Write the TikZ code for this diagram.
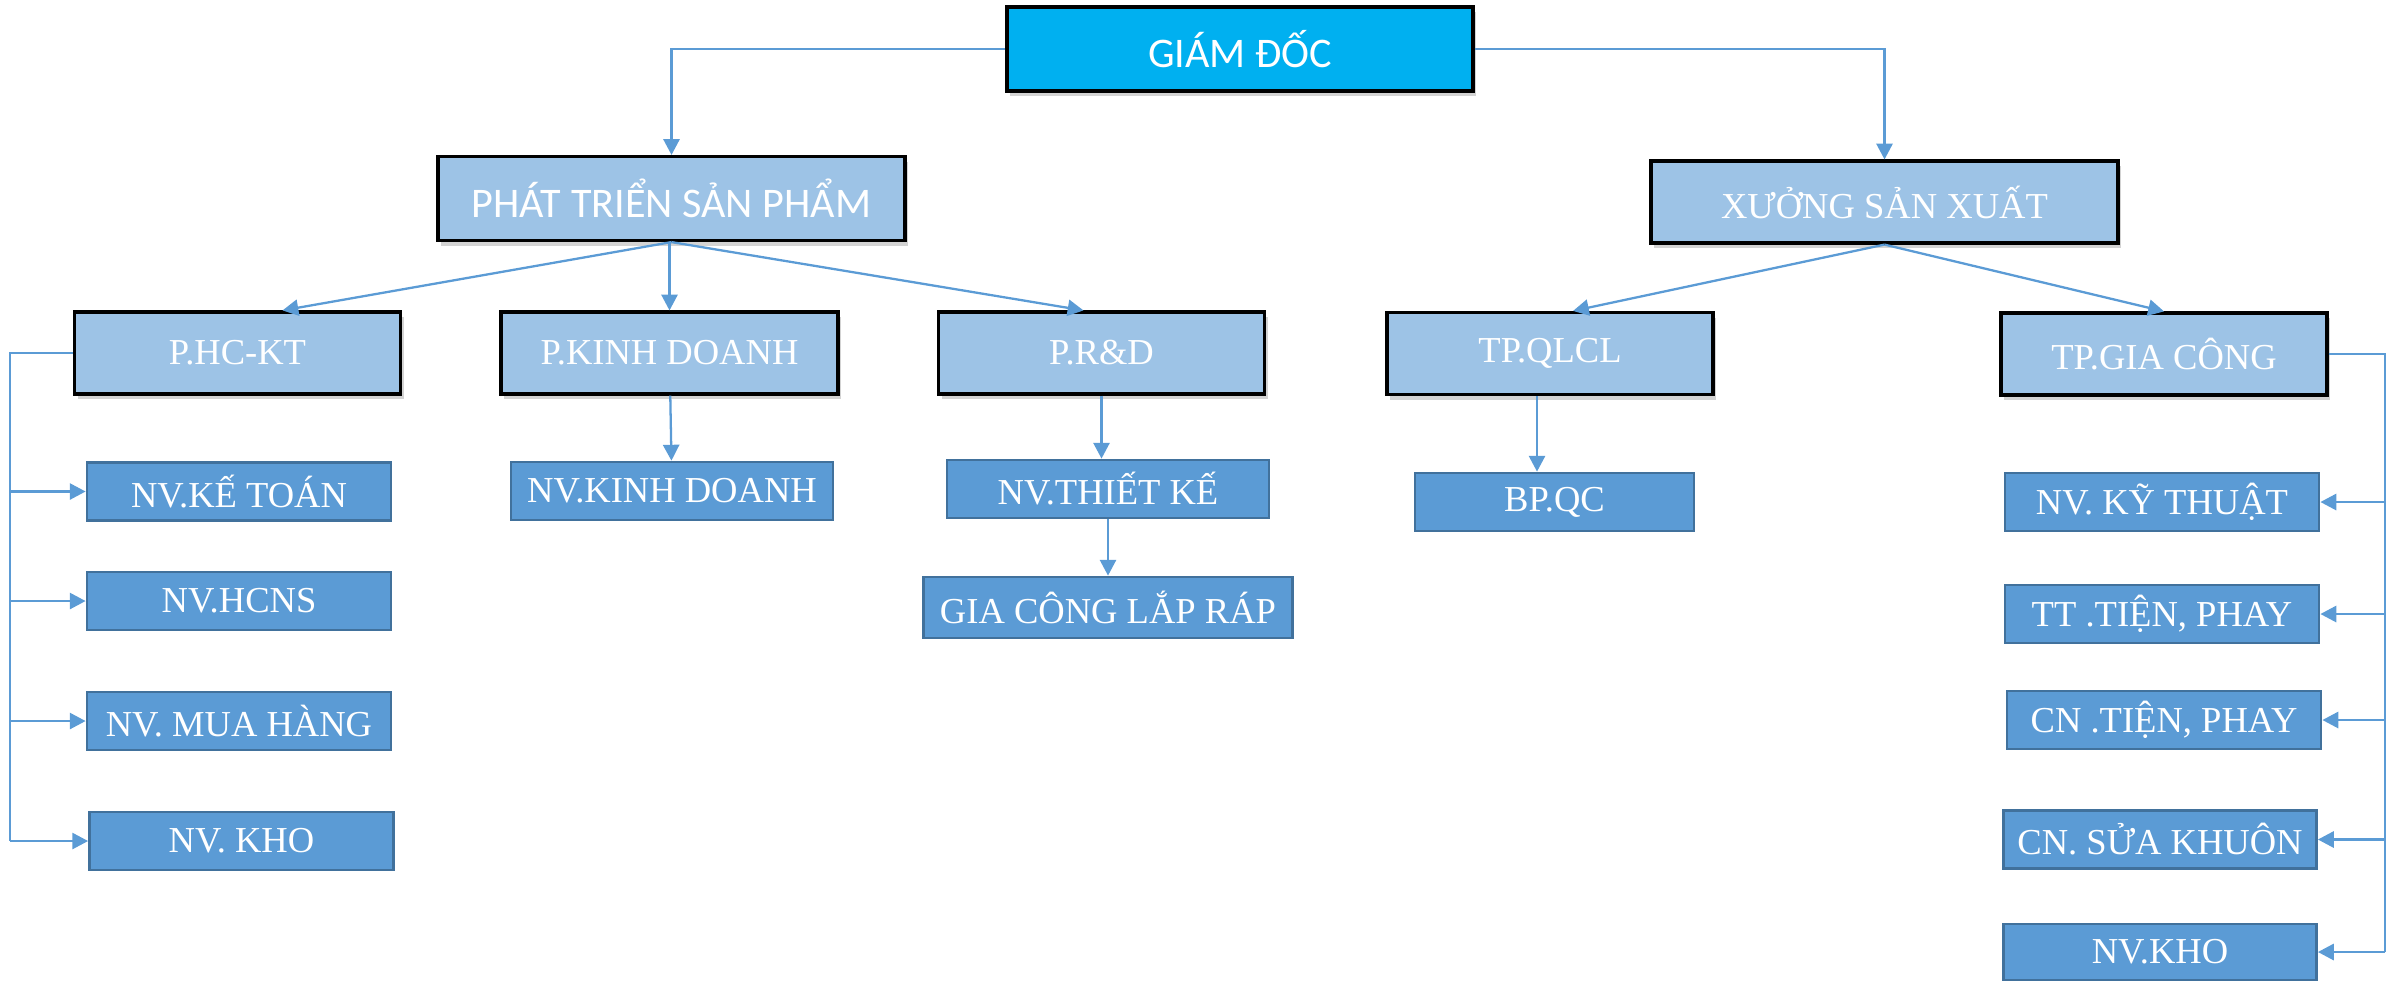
\documentclass[tikz,border=0pt]{standalone}
\usepackage{fontspec}
\setmainfont{Liberation Serif}
\newfontfamily\calibri{Carlito}
\usepackage{tikz}
\usetikzlibrary{shapes, arrows.meta, shadows}
\definecolor{topblue}{HTML}{00B0F0}
\definecolor{midblue}{HTML}{9DC3E6}
\definecolor{lowblue}{HTML}{5B9BD5}
\definecolor{lowedge}{HTML}{41719C}
\tikzstyle{arrow} = [line width=0.65pt, draw=lowblue, ->, >={Triangle[length=4.5pt,width=4.6pt]}]
\tikzstyle{link} = [line width=0.65pt, draw=lowblue]
\tikzstyle{head} = [rectangle, minimum width = 4.66cm, minimum height = 0.84cm, inner sep=0pt, text centered, draw=black, line width=0.9pt, fill=topblue, text=white, font=\calibri\fontsize{12}{14}\selectfont, drop shadow={opacity=0.35, shadow xshift=0.03cm, shadow yshift=-0.05cm}]
\tikzstyle{dept} = [rectangle, minimum width = 3.26cm, minimum height = 0.82cm, inner sep=0pt, text centered, draw=black, line width=0.9pt, fill=midblue, text=white, font=\fontsize{10.4}{12}\selectfont, drop shadow={opacity=0.35, shadow xshift=0.03cm, shadow yshift=-0.05cm}]
\tikzstyle{staff} = [rectangle, minimum width = 3.04cm, minimum height = 0.58cm, inner sep=0pt, text centered, draw=lowedge, line width=0.8pt, fill=lowblue, text=white, font=\fontsize{10.4}{12}\selectfont]

\begin{document}
\begin{tikzpicture}[node distance = 1cm]
				\useasboundingbox (0,0) rectangle (23.97,-9.83);
				%\node(label)[type]{name}
				\node(gd)[head] at (12.40,-0.49){GIÁM ĐỐC};
				\node(pt)[head, minimum width = 4.67cm, fill=midblue, below of = gd, xshift = -5.685cm, yshift = -0.495cm]{PHÁT TRIỂN SẢN PHẨM};
				\node(xsx)[dept, minimum width = 4.67cm, below of = gd, xshift = 6.445cm, yshift = -0.53cm]{XƯỞNG SẢN XUẤT};
				
				\node(phckt)[dept, below of = pt, xshift = -4.34cm, yshift = -0.545cm]{P.HC-KT};
				\node(pkd)[dept, minimum width = 3.37cm, below of = pt, xshift = -0.02cm, yshift = -0.545cm]{P.KINH DOANH};
				\node(prd)[dept, below of = pt, xshift = 4.30cm, yshift = -0.545cm]{P.R\&D};
				\node(tpqlcl)[dept, below of = xsx, xshift = -3.345cm, yshift = -0.515cm]{TP.QLCL};
				\node(tpgc)[dept, below of = xsx, xshift = 2.795cm, yshift = -0.52cm]{TP.GIA CÔNG};
				
				\node(kt)[staff, below of = phckt, xshift = 0.015cm, yshift = -0.385cm]{NV.KẾ TOÁN};
				\node(hcns)[staff, below of = kt, yshift = -0.095cm]{NV.HCNS};
				\node(mh)[staff, below of = hcns, yshift = -0.2cm]{NV. MUA HÀNG};
				\node(kho1)[staff, below of = mh, xshift = 0.025cm, yshift = -0.2cm]{NV. KHO};
				
				\node(kd)[staff, minimum width = 3.22cm, below of = pkd, xshift = 0.025cm, yshift = -0.38cm]{NV.KINH DOANH};
				
				\node(tk)[staff, minimum width = 3.22cm, below of = prd, xshift = 0.065cm, yshift = -0.36cm]{NV.THIẾT KẾ};
				\node(lr)[staff, minimum width = 3.69cm, minimum height = 0.61cm, below of = tk, yshift = -0.185cm]{GIA CÔNG LẮP RÁP};
				
				\node(qc)[staff, minimum width = 2.79cm, below of = tpqlcl, xshift = 0.045cm, yshift = -0.485cm]{BP.QC};
				
				\node(kyt)[staff, minimum width = 3.14cm, below of = tpgc, xshift = -0.02cm, yshift = -0.48cm]{NV. KỸ THUẬT};
				\node(tttp)[staff, minimum width = 3.14cm, below of = kyt, yshift = -0.12cm]{TT .TIỆN, PHAY};
				\node(cntp)[staff, minimum width = 3.14cm, below of = tttp, xshift = 0.02cm, yshift = -0.06cm]{CN .TIỆN, PHAY};
				\node(sk)[staff, minimum width = 3.13cm, below of = cntp, xshift = -0.04cm, yshift = -0.195cm]{CN. SỬA KHUÔN};
				\node(kho2)[staff, minimum width = 3.13cm, minimum height = 0.56cm, below of = sk, yshift = -0.125cm]{NV.KHO};
				
				\coordinate(busL) at (0.10,0);
				\coordinate(busR) at (23.85,0);
				
				%arrows
					\draw [arrow] (gd) -| (pt);
					\draw [arrow] (gd) -| (xsx);
					\draw [arrow] (pt.south) -- ([xshift = 0.45cm]phckt.north);
					\draw [arrow] (pt.south -| pkd.north) -- (pkd.north);
					\draw [arrow] (pt.south) -- ([xshift = -0.18cm]prd.north);
					\draw [arrow] (xsx.south) -- ([xshift = 0.23cm]tpqlcl.north);
					\draw [arrow] (xsx.south) -- (tpgc.north);
					\draw [arrow] (pkd) -- (kd);
					\draw [arrow] (prd.south) -- (prd.south |- tk.north);
					\draw [arrow] (tk) -- (lr);
					\draw [arrow] ([xshift = -0.13cm]tpqlcl.south) -- ([xshift = -0.13cm]tpqlcl.south |- qc.north);
					
					\draw [link] (phckt) -| (busL |- kho1);
					\draw [arrow] (busL |- kt) -- (kt);
					\draw [arrow] (busL |- hcns) -- (hcns);
					\draw [arrow] (busL |- mh) -- (mh);
					\draw [arrow] (busL |- kho1) -- (kho1);
					
					\draw [link] (tpgc) -| (busR |- kho2);
					\draw [arrow] (busR |- kyt) -- (kyt);
					\draw [arrow] (busR |- tttp) -- (tttp);
					\draw [arrow] (busR |- cntp) -- (cntp);
					\draw [arrow] (busR |- sk) -- (sk);
					\draw [arrow] (busR |- kho2) -- (kho2);
\end{tikzpicture}
\end{document}
